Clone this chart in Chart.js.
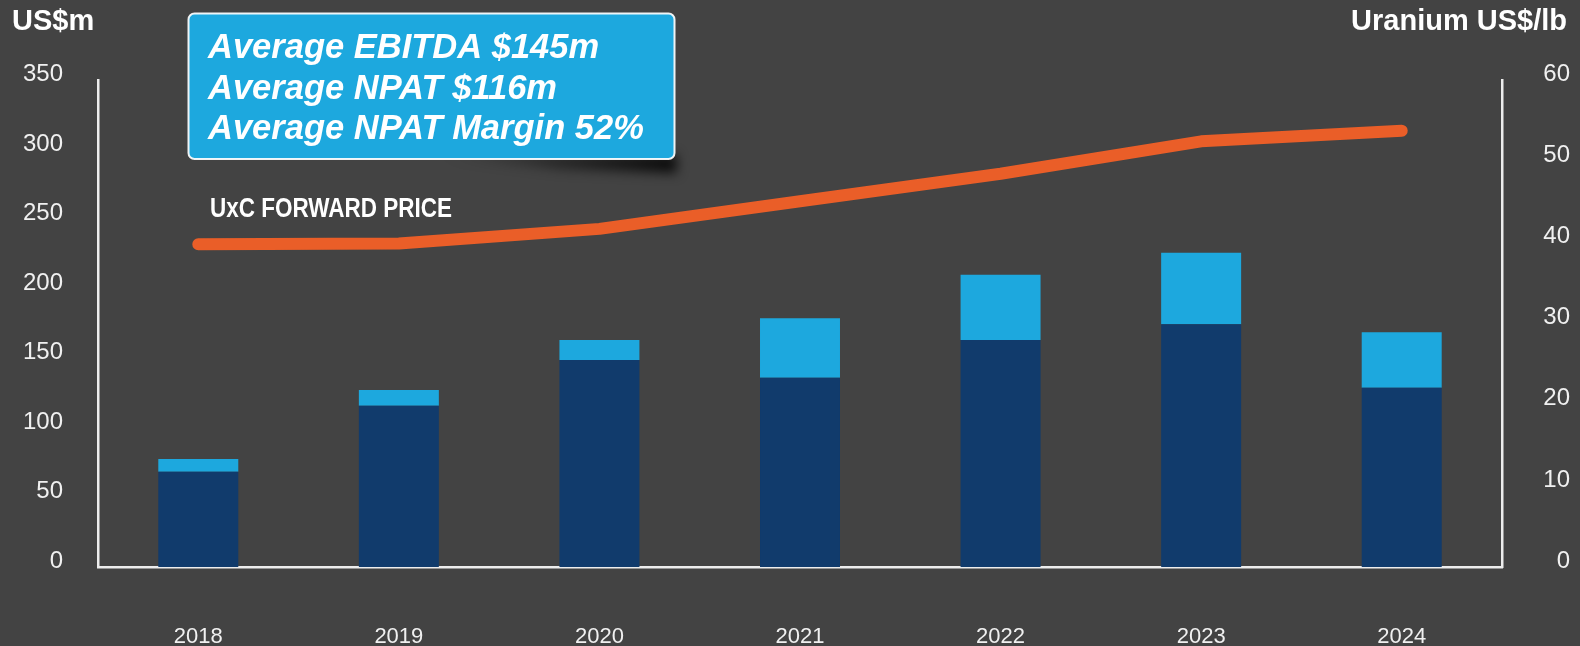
<!DOCTYPE html>
<html><head><meta charset="utf-8">
<script src="https://cdn.jsdelivr.net/npm/chart.js@4/dist/chart.umd.min.js"></script>
<style>html,body{margin:0;padding:0;background:#434343;} canvas{display:block}</style>
</head><body>
<canvas id="c" width="1580" height="646"></canvas>
<script>
// ---- data ----
const years = ['2018', '2019', '2020', '2021', '2022', '2023', '2024'];
const npat = [68.6, 116.0, 148.9, 136.2, 163.3, 174.6, 129.0];
const ebitdaAboveNpat = [9.1, 11.3, 14.4, 42.7, 47.0, 51.5, 39.8];
const uxcForwardPrice = [39.8, 39.9, 41.7, 45.1, 48.5, 52.5, 53.8];
const leftTicks = [0, 50, 100, 150, 200, 250, 300, 350];
const rightTicks = [0, 10, 20, 30, 40, 50, 60];
const leftTitle = 'US$m';
const rightTitle = 'Uranium US$/lb';
const boxLines = ['Average EBITDA $145m', 'Average NPAT $116m', 'Average NPAT Margin 52%'];
const lineLabel = 'UxC FORWARD PRICE';

// ---- styles ----
const BG = '#434343';
const DARK = '#113B6C';
const LIGHT = '#1DA8DE';
const ORANGE = '#EA5E28';
const AXIS = '#EDEDED';
const TXT = '#F0F0F0';
const FAM = '"Liberation Sans", Arial, Helvetica, sans-serif';

const annotations = {
  id: 'annotations',
  beforeDraw(chart) {
    const ctx = chart.ctx;
    ctx.save();
    ctx.fillStyle = BG;
    ctx.fillRect(0, 0, chart.width, chart.height);
    ctx.restore();
  },
  afterDraw(chart) {
    const ctx = chart.ctx;
    ctx.save();
    // axis titles
    ctx.fillStyle = '#FFFFFF';
    ctx.textBaseline = 'alphabetic';
    ctx.font = 'bold 29px ' + FAM;
    ctx.textAlign = 'left';
    ctx.fillText(leftTitle, 12, 29.5);
    ctx.textAlign = 'right';
    ctx.fillText(rightTitle, 1567, 29.5);

    // box shadow
    const bx = 188.5, by = 13.5, bw = 486, bh = 145.5, r = 6;
    ctx.save();
    ctx.filter = 'blur(6px)';
    const g = ctx.createLinearGradient(440, 0, 676, 0);
    g.addColorStop(0, 'rgba(0,0,0,0)');
    g.addColorStop(1, 'rgba(0,0,0,0.85)');
    ctx.fillStyle = g;
    ctx.beginPath();
    ctx.moveTo(430, bh + by - 4);
    ctx.lineTo(bx + bw + 2, bh + by - 4);
    ctx.lineTo(bx + bw + 2, bh + by + 14);
    ctx.lineTo(560, bh + by + 10);
    ctx.closePath();
    ctx.fill();
    ctx.restore();

    // box
    ctx.beginPath();
    ctx.roundRect(bx, by, bw, bh, r);
    ctx.fillStyle = LIGHT;
    ctx.fill();
    ctx.lineWidth = 2;
    ctx.strokeStyle = 'rgba(255,255,255,0.92)';
    ctx.stroke();

    ctx.fillStyle = '#FFFFFF';
    ctx.textAlign = 'left';
    ctx.font = 'italic bold 34.5px ' + FAM;
    const bases = [58, 98.5, 139];
    boxLines.forEach((t, i) => ctx.fillText(t, 208, bases[i]));

    // line label (narrow bold)
    ctx.font = 'bold 27px ' + FAM;
    const w = ctx.measureText(lineLabel).width;
    const target = 242;
    ctx.translate(210, 216.7);
    ctx.scale(target / w, 1);
    ctx.fillText(lineLabel, 0, 0);
    ctx.restore();
  }
};

new Chart(document.getElementById('c'), {
  data: {
    labels: years,
    datasets: [
      {
        type: 'line', label: 'UxC forward price', data: uxcForwardPrice, yAxisID: 'y1',
        borderColor: ORANGE, borderWidth: 12, borderCapStyle: 'round', borderJoinStyle: 'round',
        pointRadius: 0, tension: 0, fill: false, order: 0
      },
      {
        type: 'bar', label: 'NPAT', data: npat, yAxisID: 'y', backgroundColor: DARK,
        borderWidth: 0, barPercentage: 0.8, categoryPercentage: 0.4985, order: 1
      },
      {
        type: 'bar', label: 'EBITDA', data: ebitdaAboveNpat, yAxisID: 'y', backgroundColor: LIGHT,
        borderWidth: 0, barPercentage: 0.8, categoryPercentage: 0.4985, order: 1
      }
    ]
  },
  options: {
    responsive: false,
    animation: false,
    devicePixelRatio: 1,
    layout: { padding: { top: 80.5, right: 10, bottom: 0, left: 0 } },
    plugins: { legend: { display: false }, tooltip: { enabled: false }, title: { display: false } },
    scales: {
      x: {
        type: 'category', stacked: true, offset: true,
        grid: { display: false, drawTicks: false },
        border: { display: true, color: AXIS, width: 2.5 },
        ticks: { color: TXT, font: { family: FAM, size: 22 }, padding: 57, maxRotation: 0, autoSkip: false },
        afterFit: s => { s.height = 79; }
      },
      y: {
        position: 'left', stacked: true, min: 0, max: 350,
        grid: { display: false, drawTicks: false },
        border: { display: true, color: AXIS, width: 2.5 },
        ticks: { color: TXT, font: { family: FAM, size: 24 }, padding: 35, labelOffset: -6 },
        afterBuildTicks: s => { s.ticks = leftTicks.map(v => ({ value: v })); },
        afterFit: s => { s.width = 98; }
      },
      y1: {
        position: 'right', min: 0, max: 60,
        grid: { display: false, drawTicks: false },
        border: { display: true, color: AXIS, width: 2.5 },
        ticks: { color: TXT, font: { family: FAM, size: 24 }, padding: 10, crossAlign: 'far', labelOffset: -6 },
        afterBuildTicks: s => { s.ticks = rightTicks.map(v => ({ value: v })); },
        afterFit: s => { s.width = 68; }
      }
    }
  },
  plugins: [annotations]
});
</script>
</body></html>
